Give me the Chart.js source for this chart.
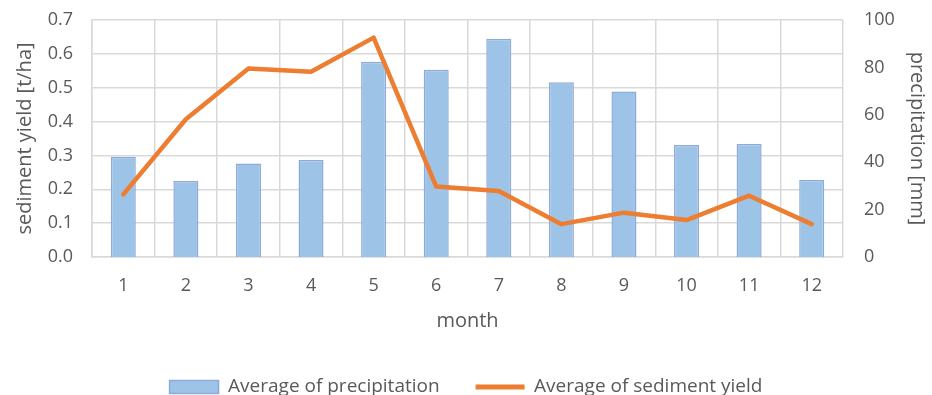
<!DOCTYPE html>
<html>
<head>
<meta charset="utf-8">
<script src="https://cdn.jsdelivr.net/npm/chart.js@4/dist/chart.umd.min.js"></script>
<style>
  html, body { margin: 0; padding: 0; background: #ffffff; }
  #wrap { width: 932px; height: 395px; position: relative; }
</style>
</head>
<body>
<div id="wrap"><canvas id="chart" width="932" height="395"></canvas></div>
<script>
// Monthly averages: precipitation (bars, right axis) and sediment yield (line, left axis)
const months = ['1', '2', '3', '4', '5', '6', '7', '8', '9', '10', '11', '12'];
const precipitation = [42.3, 32.1, 39.4, 40.9, 82.4, 79.0, 92.1, 73.7, 69.8, 47.3, 47.7, 32.5];
const sedimentYield = [0.185, 0.407, 0.557, 0.547, 0.648, 0.208, 0.195, 0.097, 0.131, 0.109, 0.181, 0.097];

const textColor = '#595959';
const gridColor = '#d9d9d9';
const fontFamily = '"Open Sans", Lato, "Liberation Sans", sans-serif';

// y axes: fixed width, and no extra top/bottom room reserved for the tick labels
function fixVertical(width) {
  return scale => {
    scale.width = width;
    scale.paddingTop = 0;
    scale.paddingBottom = 0;
  };
}

new Chart(document.getElementById('chart'), {
  type: 'bar',
  data: {
    labels: months,
    datasets: [
      {
        type: 'bar',
        label: 'Average of precipitation',
        data: precipitation,
        yAxisID: 'yPrec',
        backgroundColor: '#9dc3e6',
        borderColor: '#8eaadb',
        borderWidth: 1.5,
        categoryPercentage: 1,
        barPercentage: 0.4,
        order: 2
      },
      {
        type: 'line',
        label: 'Average of sediment yield',
        data: sedimentYield,
        yAxisID: 'ySed',
        borderColor: '#ed7d31',
        backgroundColor: '#ed7d31',
        borderWidth: 4.5,
        borderCapStyle: 'round',
        borderJoinStyle: 'round',
        tension: 0,
        pointRadius: 0,
        pointStyle: 'line',
        fill: false,
        order: 1
      }
    ]
  },
  options: {
    responsive: false,
    animation: false,
    layout: { padding: { top: 20, bottom: -11.5, left: 0, right: 0 } },
    plugins: {
      tooltip: { enabled: false },
      legend: {
        position: 'bottom',
        labels: {
          color: textColor,
          font: { family: fontFamily, size: 19 },
          usePointStyle: true,
          pointStyleWidth: 49,
          boxHeight: 13,
          padding: 36,
          generateLabels(chart) {
            return chart.data.datasets.map((ds, i) => ({
              text: ds.label,
              datasetIndex: i,
              fillStyle: ds.type === 'line' ? ds.borderColor : ds.backgroundColor,
              strokeStyle: ds.borderColor,
              lineWidth: ds.type === 'line' ? 5 : 1.5,
              pointStyle: ds.type === 'line' ? 'line' : 'rect',
              fontColor: textColor,
              hidden: false
            }));
          }
        }
      }
    },
    scales: {
      x: {
        offset: true,
        grid: { color: gridColor, lineWidth: 1.5, drawTicks: false, offset: true },
        border: { color: gridColor, width: 1.5 },
        ticks: { color: textColor, font: { family: fontFamily, size: 18 }, padding: 18 },
        title: {
          display: true,
          text: 'month',
          color: textColor,
          font: { family: fontFamily, size: 20 },
          padding: { top: 0, bottom: 8.5 }
        },
        afterFit(scale) { scale.height = 84.5; }
      },
      ySed: {
        position: 'left',
        min: 0,
        max: 0.7,
        grid: { color: gridColor, lineWidth: 1.5, drawTicks: false },
        border: { color: gridColor, width: 1.5 },
        ticks: {
          stepSize: 0.1,
          color: textColor,
          font: { family: fontFamily, size: 18 },
          padding: 19,
          callback: v => Number(v).toFixed(1)
        },
        title: {
          display: true,
          text: 'sediment yield [t/ha]',
          color: textColor,
          font: { family: fontFamily, size: 20 },
          padding: { top: 13, bottom: 0 }
        },
        afterFit: fixVertical(92)
      },
      yPrec: {
        position: 'right',
        min: 0,
        max: 100,
        grid: { display: false, drawTicks: false },
        border: { display: false },
        ticks: {
          stepSize: 20,
          color: textColor,
          font: { family: fontFamily, size: 18 },
          padding: 21
        },
        title: {
          display: true,
          text: 'precipitation [mm]',
          color: textColor,
          font: { family: fontFamily, size: 20 },
          padding: { top: 3, bottom: 0 }
        },
        afterFit: fixVertical(89)
      }
    }
  }
});
</script>
</body>
</html>
